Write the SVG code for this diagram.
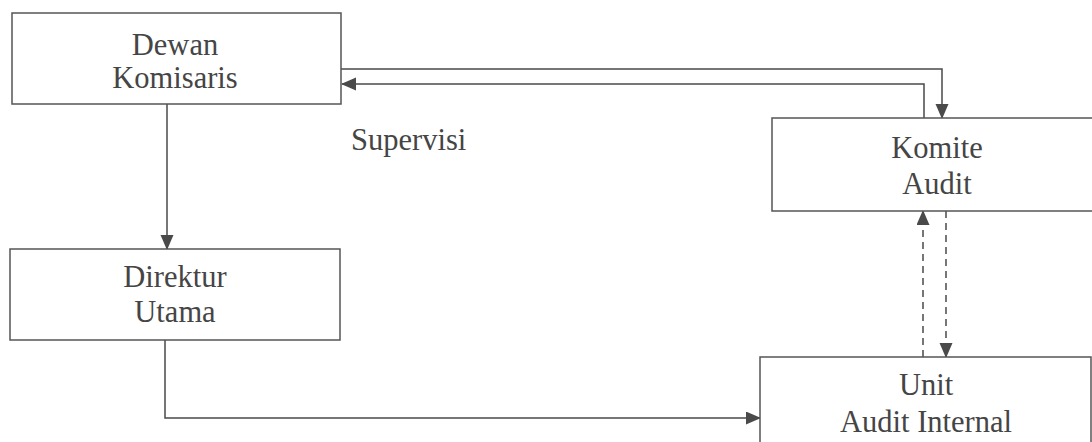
<svg xmlns="http://www.w3.org/2000/svg" width="1092" height="442" viewBox="0 0 1092 442">
<style>
.box{fill:#fff;stroke:#555;stroke-width:1.5}
.lbl{font-family:"Liberation Serif","Times New Roman",serif;font-size:30.5px;fill:#454545;text-anchor:middle}
.free{font-family:"Liberation Serif","Times New Roman",serif;font-size:30.5px;fill:#454545}
.edge{fill:none;stroke:#4a4a4a;stroke-width:1.5}
.dash{stroke-dasharray:7,5}
</style>
<defs>
<marker id="ah" markerUnits="userSpaceOnUse" markerWidth="16" markerHeight="14" refX="14" refY="6.5" orient="auto">
<path d="M0,0 L15,6.5 L0,13 Z" fill="#4a4a4a"/>
</marker>
</defs>
<rect width="1092" height="442" fill="#fff"/>
<g id="connectors">
<path class="edge" d="M341,69 H942 V118" marker-end="url(#ah)"/>
<path class="edge" d="M924,118 V84 H342" marker-end="url(#ah)"/>
<path class="edge" d="M167,104 V249" marker-end="url(#ah)"/>
<path class="edge" d="M165,340 V418 H760" marker-end="url(#ah)"/>
<path class="edge dash" d="M923,357 V211" marker-end="url(#ah)"/>
<path class="edge dash" d="M946,211 V357" marker-end="url(#ah)"/>
</g>
<g id="dewan">
<rect class="box" x="12" y="13" width="329" height="91"/>
<text class="lbl" x="175" y="55">Dewan</text>
<text class="lbl" x="175" y="88">Komisaris</text>
</g>
<g id="direktur">
<rect class="box" x="10" y="249" width="330" height="91"/>
<text class="lbl" x="175" y="287">Direktur</text>
<text class="lbl" x="175" y="322">Utama</text>
</g>
<g id="komite">
<rect class="box" x="772" y="118" width="330" height="93"/>
<text class="lbl" x="937" y="158">Komite</text>
<text class="lbl" x="937" y="194">Audit</text>
</g>
<g id="unit">
<rect class="box" x="760" y="357" width="331" height="100"/>
<text class="lbl" x="926" y="395">Unit</text>
<text class="lbl" x="926" y="432">Audit Internal</text>
</g>
<g id="supervisi">
<text class="free" x="351" y="150">Supervisi</text>
</g>
</svg>
